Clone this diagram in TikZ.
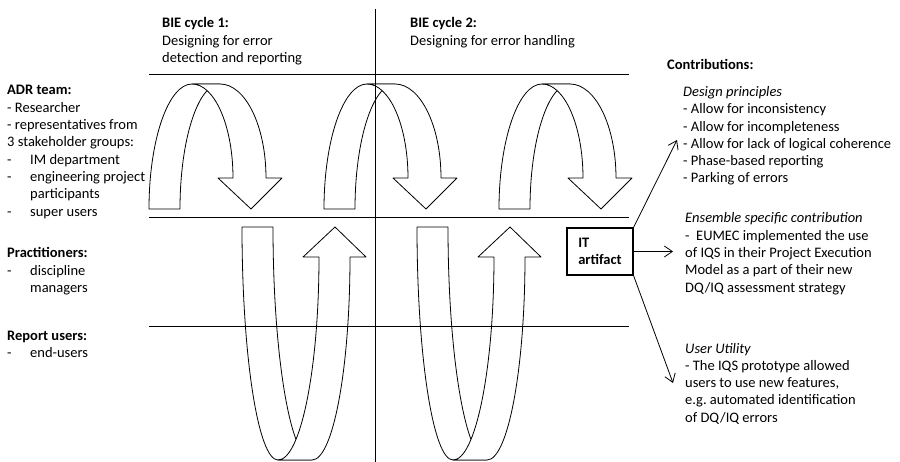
\documentclass[tikz,border=0pt]{standalone}
\usepackage{fontspec}
\setmainfont{Carlito}
\usetikzlibrary{arrows.meta}

\newcommand{\dashtab}{\makebox[23pt][l]{-}}
\newcommand{\blanktab}{\hspace*{23pt}}

\begin{document}
\begin{tikzpicture}
[x=1pt,y=-1pt,
  textdecorate/.style={anchor=base west,align=left,inner sep=0pt,
    font=\fontsize{14.5}{17.3}\selectfont},%
  boxdecorate/.style={draw,line width=1.1pt,minimum width=66pt,minimum height=47pt,
    align=left,inner sep=0pt,font=\fontsize{14.5}{17.3}\selectfont\bfseries},%
  banddecorate/.style={draw,fill=white,line width=0.8pt,line join=round},%
  linedecorate/.style={-,line width=1pt},%
  arrowdecorate/.style={-{Straight Barb[length=8pt,width=11pt]},line width=0.8pt}]
\useasboundingbox (0,0) rectangle (900,462);
%% upper turning arrows
\foreach \xo in {149,324,499}
{
  \draw[banddecorate] (\xo,209) .. controls (\xo,140) and ({\xo+19.3},84) .. ({\xo+43},84)
    -- ({\xo+71},84) .. controls ({\xo+48.9},84) and ({\xo+31},140) .. ({\xo+31},209) -- cycle;
  \draw[banddecorate] ({\xo+43},84) -- ({\xo+71},84)
    .. controls ({\xo+96.4},84) and ({\xo+117},126) .. ({\xo+117},178)
    -- ({\xo+133},178) -- ({\xo+102},209) -- ({\xo+69},178) -- ({\xo+84},178)
    .. controls ({\xo+84},126) and ({\xo+65.6},84) .. ({\xo+43},84) -- cycle;
}
%% lower turning arrows
\foreach \xo in {242,417}
{
  \draw[banddecorate] (\xo,227) .. controls (\xo,355.6) and ({\xo+16.1},460) .. ({\xo+36},460)
    -- ({\xo+70},460) .. controls ({\xo+48.5},460) and ({\xo+31},355.6) .. ({\xo+31},227) -- cycle;
  \draw[banddecorate] ({\xo+36},460) -- ({\xo+70},460)
    .. controls ({\xo+91},460) and ({\xo+108},369) .. ({\xo+108},257)
    -- ({\xo+124},257) -- ({\xo+93},227) -- ({\xo+61},257) -- ({\xo+77},257)
    .. controls ({\xo+77},369) and ({\xo+58.6},460) .. ({\xo+36},460) -- cycle;
}
%% grid lines
\foreach \y in {75,218,327}
{
  \draw[linedecorate] (149,\y) -- (629,\y);
}
\draw[linedecorate] (375,9) -- (375,462);
%% headings and groups (placed at the baseline of the last line)
\node (cycleone) at (162,62.6) [textdecorate] {\textbf{BIE cycle 1:}\\Designing for error\\detection and reporting};
\node (cycletwo) at (410,45.3) [textdecorate] {\textbf{BIE cycle 2:}\\Designing for error handling};
\node (adrteam) at (7,216.1) [textdecorate] {\textbf{ADR team:}\\- Researcher\\- representatives from\\3 stakeholder groups:\\\dashtab IM department\\\dashtab engineering project\\\blanktab participants\\\dashtab super users};
\node (practitioners) at (7,292.6) [textdecorate] {\textbf{Practitioners:}\\\dashtab discipline\\\blanktab managers};
\node (reportusers) at (7,357.3) [textdecorate] {\textbf{Report users:}\\\dashtab end-users};
%% contributions
\node (contributions) at (667,70) [textdecorate] {\textbf{Contributions:}};
\node (principles) at (683,183) [textdecorate] {\textit{Design principles}\\- Allow for inconsistency\\- Allow for incompleteness\\- Allow for lack of logical coherence\\- Phase-based reporting\\- Parking of errors};
\node (ensemble) at (685,292.2) [textdecorate] {\textit{Ensemble specific contribution}\\-\ \ EUMEC implemented the use\\of IQS in their Project Execution\\Model as a part of their new\\DQ/IQ assessment strategy};
\node (utility) at (685,422.2) [textdecorate] {\textit{User Utility}\\- The IQS prototype allowed\\users to use new features,\\e.g.\ automated identification\\of DQ/IQ errors};
%% artifact and its arrows
\node (itbox) at (600,251.5) [boxdecorate] {IT\\artifact};
\coordinate (principlestip) at (677,140);
\coordinate (ensembletip) at (673,251.5);
\coordinate (utilitytip) at (673,383);
\path
\foreach \startanchor/\endnode in {north east/principlestip, east/ensembletip, south east/utilitytip} {
  (itbox.\startanchor) edge[arrowdecorate] (\endnode)
};
\end{tikzpicture}
\end{document}
